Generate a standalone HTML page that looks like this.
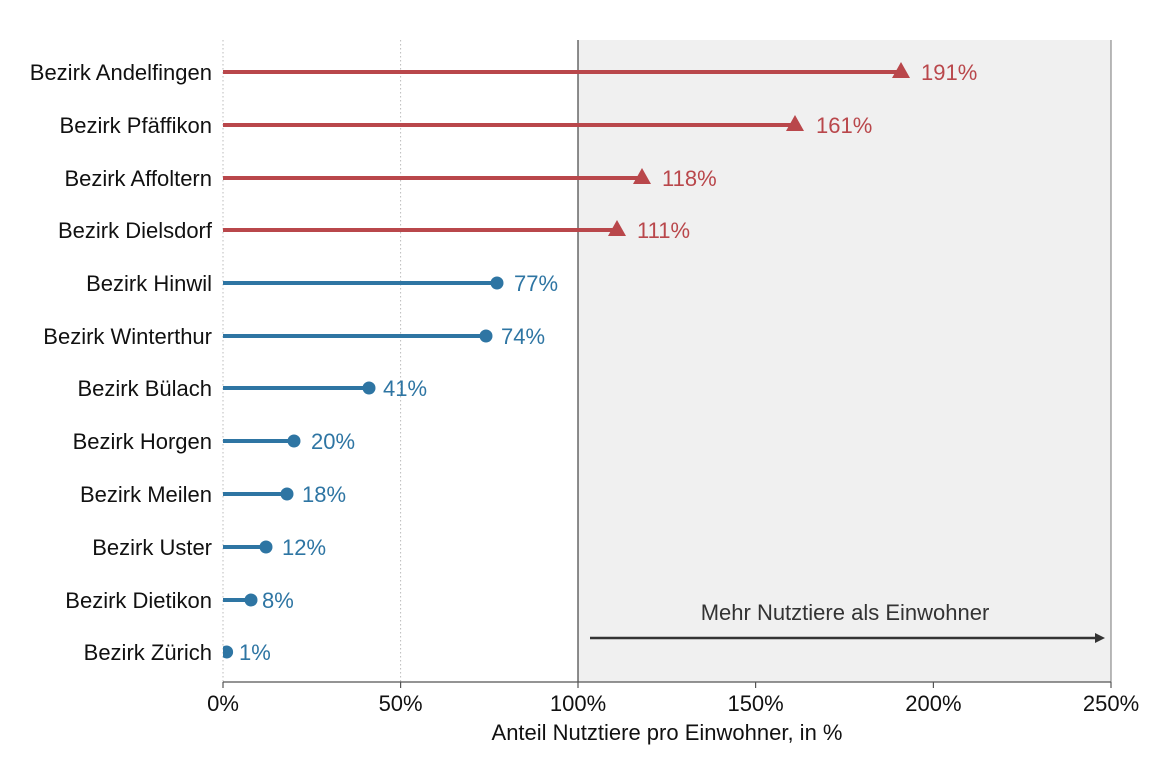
<!DOCTYPE html>
<html><head><meta charset="utf-8"><style>html,body{margin:0;padding:0;background:#fff}svg{display:block}text{font-family:"Liberation Sans",Arial,sans-serif}</style></head>
<body>
<svg width="1152" height="768" viewBox="0 0 1152 768" xmlns="http://www.w3.org/2000/svg">
<defs><clipPath id="c"><rect x="223" y="40" width="888" height="642"/></clipPath></defs>
<rect x="578" y="40" width="533" height="642" fill="#f0f0f0"/>
<line x1="223" y1="40" x2="223" y2="682" stroke="#bbb" stroke-dasharray="1.5,2.5"/>
<line x1="400.6" y1="40" x2="400.6" y2="682" stroke="#bbb" stroke-dasharray="1.5,2.5"/>
<line x1="578" y1="40" x2="578" y2="682" stroke="#444" stroke-width="1.2"/>
<line x1="1111" y1="40" x2="1111" y2="682" stroke="#777" stroke-width="1"/>
<line x1="223" y1="682" x2="1111" y2="682" stroke="#555" stroke-width="1.2"/>
<g stroke="#555" stroke-width="1.2">
<line x1="223" y1="682" x2="223" y2="688"/><line x1="400.6" y1="682" x2="400.6" y2="688"/><line x1="578" y1="682" x2="578" y2="688"/><line x1="755.6" y1="682" x2="755.6" y2="688"/><line x1="933.4" y1="682" x2="933.4" y2="688"/><line x1="1111" y1="682" x2="1111" y2="688"/>
</g>
<g font-size="22" fill="#111" text-anchor="middle">
<text x="223" y="711">0%</text><text x="400.6" y="711">50%</text><text x="578" y="711">100%</text><text x="755.6" y="711">150%</text><text x="933.4" y="711">200%</text><text x="1111" y="711">250%</text>
<text x="667" y="740">Anteil Nutztiere pro Einwohner, in %</text>
</g>
<text x="845" y="620" font-size="22" fill="#333" text-anchor="middle">Mehr Nutztiere als Einwohner</text>
<line x1="590" y1="638" x2="1098" y2="638" stroke="#333" stroke-width="2.5"/>
<polygon points="1105,638 1095,633 1095,643" fill="#333"/>
<g font-size="22" fill="#111" text-anchor="end">
<text x="212" y="80">Bezirk Andelfingen</text>
<text x="212" y="133">Bezirk Pfäffikon</text>
<text x="212" y="186">Bezirk Affoltern</text>
<text x="212" y="238">Bezirk Dielsdorf</text>
<text x="212" y="291">Bezirk Hinwil</text>
<text x="212" y="344">Bezirk Winterthur</text>
<text x="212" y="396">Bezirk Bülach</text>
<text x="212" y="449">Bezirk Horgen</text>
<text x="212" y="502">Bezirk Meilen</text>
<text x="212" y="555">Bezirk Uster</text>
<text x="212" y="608">Bezirk Dietikon</text>
<text x="212" y="660">Bezirk Zürich</text>
</g>
<g stroke="#b9474b" stroke-width="4" fill="none">
<line x1="223" y1="72" x2="901" y2="72"/><line x1="223" y1="125" x2="795" y2="125"/><line x1="223" y1="178" x2="642" y2="178"/><line x1="223" y1="230" x2="617" y2="230"/>
</g>
<g fill="#b9474b">
<polygon points="901,62 910,78 892,78"/><polygon points="795,115 804,131 786,131"/><polygon points="642,168 651,184 633,184"/><polygon points="617,220 626,236 608,236"/>
</g>
<g font-size="22" fill="#b9474b">
<text x="921" y="80">191%</text><text x="816" y="133">161%</text><text x="662" y="186">118%</text><text x="637" y="238">111%</text>
</g>
<g clip-path="url(#c)">
<g stroke="#2e75a3" stroke-width="4">
<line x1="223" y1="283" x2="497" y2="283"/><line x1="223" y1="336" x2="486" y2="336"/><line x1="223" y1="388" x2="369" y2="388"/><line x1="223" y1="441" x2="294" y2="441"/><line x1="223" y1="494" x2="287" y2="494"/><line x1="223" y1="547" x2="266" y2="547"/><line x1="223" y1="600" x2="251" y2="600"/><line x1="223" y1="652" x2="227" y2="652"/>
</g>
<g fill="#2e75a3">
<circle cx="497" cy="283" r="6.5"/><circle cx="486" cy="336" r="6.5"/><circle cx="369" cy="388" r="6.5"/><circle cx="294" cy="441" r="6.5"/><circle cx="287" cy="494" r="6.5"/><circle cx="266" cy="547" r="6.5"/><circle cx="251" cy="600" r="6.5"/><circle cx="226.6" cy="652" r="6.5"/>
</g>
</g>
<g font-size="22" fill="#2e75a3">
<text x="514" y="291">77%</text><text x="501" y="344">74%</text><text x="383" y="396">41%</text><text x="311" y="449">20%</text><text x="302" y="502">18%</text><text x="282" y="555">12%</text><text x="262" y="608">8%</text><text x="239" y="660">1%</text>
</g>
</svg>
</body></html>
